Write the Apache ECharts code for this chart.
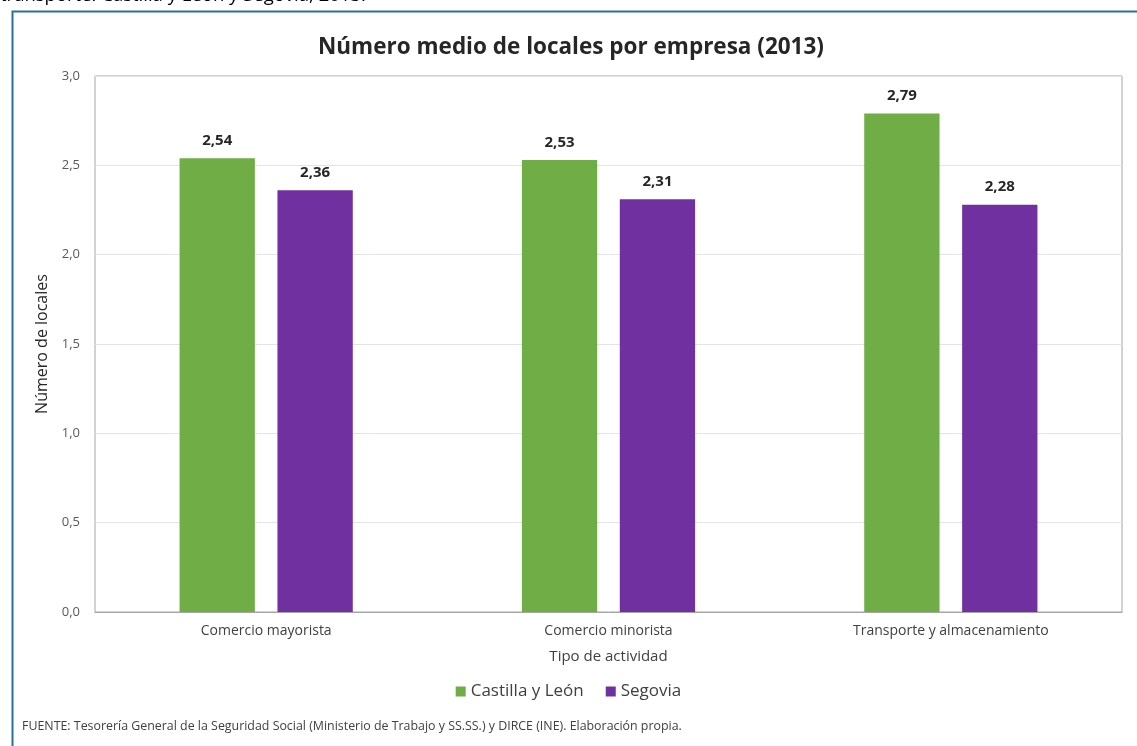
<!DOCTYPE html>
<html>
<head>
<meta charset="utf-8">
<script src="https://cdn.jsdelivr.net/npm/echarts@6/dist/echarts.min.js"></script>
<style>
html,body{margin:0;padding:0;background:#fff;}
#c{width:1137px;height:746px;}
</style>
</head>
<body>
<div id="c"></div>
<script>
var categories = ['Comercio mayorista', 'Comercio minorista', 'Transporte y almacenamiento'];
var seriesNames = ['Castilla y León', 'Segovia'];
var castillaLeon = [2.54, 2.53, 2.79];
var segovia = [2.36, 2.31, 2.28];
var yTicks = [0, 0.5, 1, 1.5, 2, 2.5, 3];

var FONT = '"Open Sans", Lato, sans-serif';
function fmt(v, d) { return v.toFixed(d).replace('.', ','); }

var chart = echarts.init(document.getElementById('c'), null, {renderer: 'canvas'});
chart.setOption({
  backgroundColor: '#ffffff',
  animation: false,
  textStyle: {fontFamily: FONT},
  title: {
    text: 'Número medio de locales por empresa (2013)',
    left: 566, top: 31, textAlign: 'center',
    textStyle: {fontFamily: FONT, fontSize: 22.5, fontWeight: 'bold', color: '#262626'}
  },
  legend: {
    data: seriesNames,
    left: 'center', top: 678,
    icon: 'rect', itemWidth: 10, itemHeight: 10, itemGap: 22,
    textStyle: {fontFamily: FONT, fontSize: 17, color: '#404040'}
  },
  grid: {left: 95, top: 76, right: 15, bottom: 134, show: true, borderColor: '#a6a6a6', borderWidth: 1, backgroundColor: '#ffffff'},
  xAxis: {
    type: 'category', data: categories,
    name: 'Tipo de actividad', nameLocation: 'middle', nameGap: 37,
    nameTextStyle: {fontFamily: FONT, fontSize: 15, color: '#404040'},
    axisLine: {lineStyle: {color: '#a6a6a6'}},
    axisTick: {show: false},
    axisLabel: {fontFamily: FONT, fontSize: 14, color: '#404040', margin: 12}
  },
  yAxis: {
    type: 'value', min: 0, max: 3, interval: 0.5,
    name: 'Número de locales', nameLocation: 'middle', nameGap: 43,
    nameTextStyle: {fontFamily: FONT, fontSize: 16, color: '#262626'},
    axisLine: {show: false}, axisTick: {show: false},
    axisLabel: {fontFamily: FONT, fontSize: 13, color: '#595959', margin: 15, formatter: function(v){ return fmt(v,1); }},
    splitLine: {lineStyle: {color: '#e3e3e3'}}
  },
  series: [
    {name: seriesNames[0], type: 'bar', data: castillaLeon, barWidth: '22%', barGap: '30%',
     itemStyle: {color: '#70ad47'},
     label: {show: true, position: 'top', distance: 10, fontFamily: FONT, fontSize: 15, fontWeight: 'bold', color: '#262626', formatter: function(p){ return fmt(p.value,2); }}},
    {name: seriesNames[1], type: 'bar', data: segovia, barWidth: '22%', barGap: '30%',
     itemStyle: {color: '#7030a0'},
     label: {show: true, position: 'top', distance: 10, fontFamily: FONT, fontSize: 15, fontWeight: 'bold', color: '#262626', formatter: function(p){ return fmt(p.value,2); }}}
  ],
  graphic: [
    {type: 'rect', left: 10, top: 9, shape: {width: 1140, height: 760}, style: {fill: 'none', stroke: '#2e6e9e', lineWidth: 2}, z: 100},
    {type: 'text', left: 0, top: -14, style: {text: 'transporte. Castilla y León y Segovia, 2013.', fontFamily: FONT, fontSize: 18.5, fill: '#000000'}},
    {type: 'text', left: 22, top: 720, style: {text: 'FUENTE: Tesorería General de la Seguridad Social (Ministerio de Trabajo y SS.SS.) y DIRCE (INE). Elaboración propia.', fontFamily: FONT, fontSize: 12.4, fill: '#404040'}}
  ]
});
</script>
</body>
</html>
